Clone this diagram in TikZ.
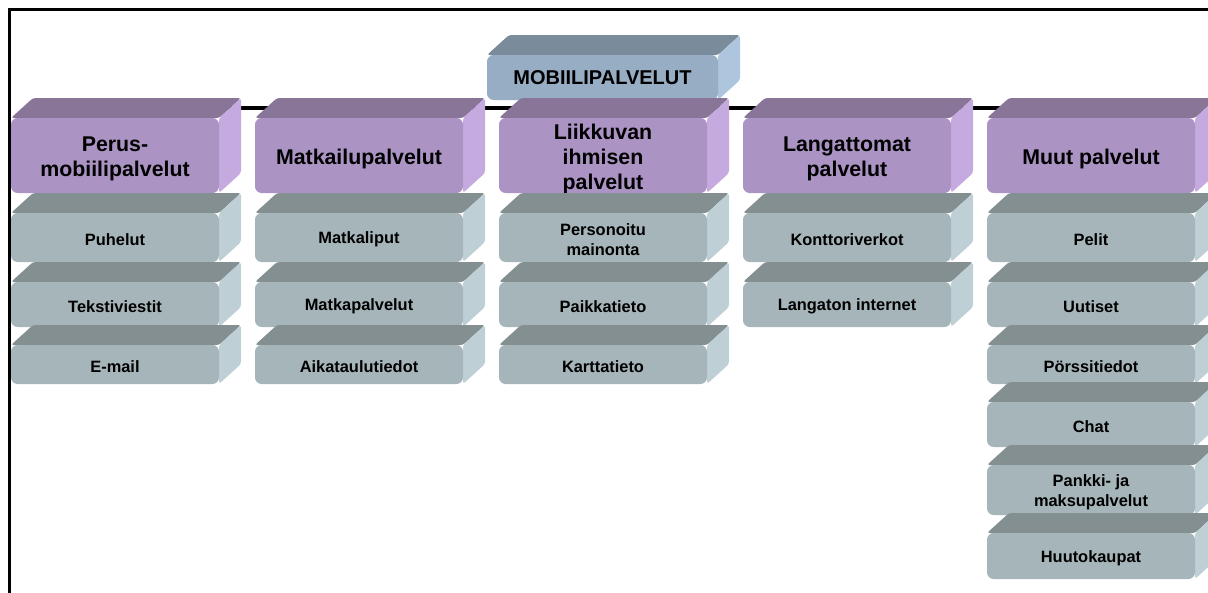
\documentclass[tikz,border=0pt]{standalone}
\usepackage{fontspec}
\setmainfont{Liberation Sans}
\definecolor{ccatF}{HTML}{AB93C3}
\definecolor{ccatT}{HTML}{897598}
\definecolor{ccatS}{HTML}{C5AAE0}
\definecolor{cleafF}{HTML}{A6B5B9}
\definecolor{cleafT}{HTML}{848F92}
\definecolor{cleafS}{HTML}{BECFD6}
\definecolor{cheadF}{HTML}{97ADC4}
\definecolor{cheadT}{HTML}{7A8B9B}
\definecolor{cheadS}{HTML}{ADC5DD}
\tikzset{
  frameline/.style={line width=2.25pt, black},
  hline/.style={line width=2.8pt, black},
  txtbase/.style={inner sep=0pt, align=center, text=black},
  catF/.style={fill=ccatF, rounded corners=5pt},
  catX/.style={txtbase, yshift=-2.5pt, font=\fontsize{16}{18.5}\selectfont\bfseries},
  catT/.style={fill=ccatT, rounded corners=2pt},
  catS/.style={fill=ccatS, rounded corners=2pt},
  leafF/.style={fill=cleafF, rounded corners=5pt},
  leafX/.style={txtbase, yshift=-1.5pt, font=\fontsize{12.3}{15}\selectfont\bfseries},
  leafT/.style={fill=cleafT, rounded corners=2pt},
  leafS/.style={fill=cleafS, rounded corners=2pt},
  headF/.style={fill=cheadF, rounded corners=5pt},
  headX/.style={txtbase, yshift=-0.4pt, font=\fontsize{15}{17}\selectfont\bfseries},
  headT/.style={fill=cheadT, rounded corners=2pt},
  headS/.style={fill=cheadS, rounded corners=2pt},
}
% #1 name, #2 x0, #3 front top, #4 front bottom, #5 kind, #6 width, #7 text
\newcommand\mkbox[7]{%
  \fill[#5T] (#2,#3) -- ++(22,-20) -- (#2+#6+22,#3-20) -- (#2+#6,#3) -- cycle;
  \fill[#5S] (#2+#6,#3) -- (#2+#6+22,#3-20) -- (#2+#6+22,#4-20) -- (#2+#6,#4) -- cycle;
  \fill[#5F] (#2,#3) rectangle (#2+#6,#4);
  \node[#5X] (#1) at ({#2+#6/2},{(#3+#4)/2}) {#7};
}
\begin{document}
\begin{tikzpicture}[x=0.75pt,y=-0.75pt]
\clip (0,0) rectangle (1208,593);
\fill[white] (0,0) rectangle (1208,593);
\draw[frameline] (9,593) -- (9,9) -- (1208,9);
\coordinate (lnL) at (115,108);
\coordinate (lnR) at (1091,108);
\draw[hline] (lnL) -- (lnR);
\mkbox{hd}{487}{55}{100}{head}{231}{MOBIILIPALVELUT}
% categories
\mkbox{c1}{11}{118}{193}{cat}{208}{Perus-\\mobiilipalvelut}
\mkbox{c2}{255}{118}{193}{cat}{208}{Matkailupalvelut}
\mkbox{c3}{499}{118}{193}{cat}{208}{Liikkuvan\\ihmisen\\palvelut}
\mkbox{c4}{743}{118}{193}{cat}{208}{Langattomat\\palvelut}
\mkbox{c5}{987}{118}{193}{cat}{208}{Muut palvelut}
% column 1
\mkbox{a1}{11}{213}{262}{leaf}{208}{Puhelut}
\mkbox{a2}{11}{282}{327}{leaf}{208}{Tekstiviestit}
\mkbox{a3}{11}{345}{384}{leaf}{208}{E-mail}
% column 2
\mkbox{b1}{255}{213}{262}{leaf}{208}{Matkaliput}
\mkbox{b2}{255}{282}{327}{leaf}{208}{Matkapalvelut}
\mkbox{b3}{255}{345}{384}{leaf}{208}{Aikataulutiedot}
% column 3
\mkbox{d1}{499}{213}{262}{leaf}{208}{Personoitu\\mainonta}
\mkbox{d2}{499}{282}{327}{leaf}{208}{Paikkatieto}
\mkbox{d3}{499}{345}{384}{leaf}{208}{Karttatieto}
% column 4
\mkbox{e1}{743}{213}{262}{leaf}{208}{Konttoriverkot}
\mkbox{e2}{743}{282}{327}{leaf}{208}{Langaton internet}
% column 5
\mkbox{f1}{987}{213}{262}{leaf}{208}{Pelit}
\mkbox{f2}{987}{282}{327}{leaf}{208}{Uutiset}
\mkbox{f3}{987}{345}{384}{leaf}{208}{Pörssitiedot}
\mkbox{f4}{987}{402}{447}{leaf}{208}{Chat}
\mkbox{f5}{987}{465}{515}{leaf}{208}{Pankki- ja\\maksupalvelut}
\mkbox{f6}{987}{533}{579}{leaf}{208}{Huutokaupat}
\end{tikzpicture}
\end{document}
